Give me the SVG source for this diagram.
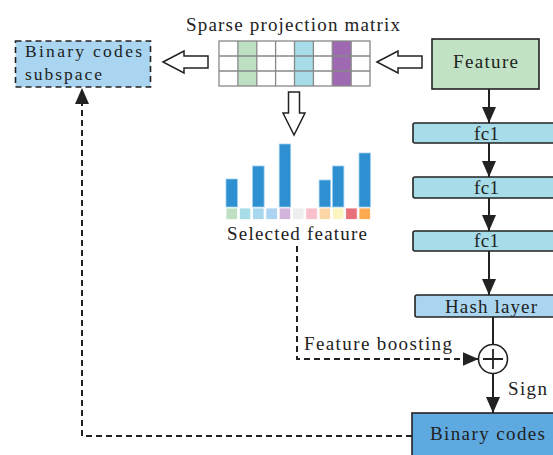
<svg xmlns="http://www.w3.org/2000/svg" width="553" height="455" viewBox="0 0 553 455">
<defs>
<style>
text{font-family:"Liberation Serif","Times New Roman",serif;fill:#222;font-size:19px}
.box{stroke:#222;stroke-width:1.6}
.line{stroke:#222;stroke-width:2;fill:none}
.dash{stroke:#222;stroke-width:2;fill:none;stroke-dasharray:6 4}
.hollow{fill:#fff;stroke:#222;stroke-width:1.5;stroke-linejoin:miter}
.grid{fill:none;stroke:#888;stroke-width:1.3}
.bar{fill:#2e8fd1;stroke:#9fd0f0;stroke-width:0.8}
.sq{stroke:#fff;stroke-width:0.8}
</style>
<marker id="ah" viewBox="0 0 16 14" refX="16" refY="7" markerWidth="16" markerHeight="14" markerUnits="userSpaceOnUse" orient="auto">
<path d="M0,0 L16,7 L0,14 Z" fill="#222"/>
</marker>
</defs>

<g id="subspace">
<rect x="15.5" y="41" width="135" height="46" fill="#a9d5f0" stroke="#222" stroke-width="1.6" stroke-dasharray="6 4"/>
<text x="25" y="57" textLength="117" lengthAdjust="spacing" style="font-size:17.5px">Binary codes</text>
<text x="25" y="80" textLength="77" lengthAdjust="spacing" style="font-size:17.5px">subspace</text>
</g>

<g id="matrix">
<text x="186" y="31" textLength="214" lengthAdjust="spacing">Sparse projection matrix</text>
<rect x="237.9" y="41" width="18.9" height="45" fill="#bde0c3"/>
<rect x="294.6" y="41" width="18.9" height="45" fill="#a6dde8"/>
<rect x="332.4" y="41" width="18.9" height="45" fill="#9e69b0"/>
<rect class="grid" x="219" y="41" width="151" height="45"/>
<path class="grid" d="M219,56H370M219,71H370M237.9,41V86M256.8,41V86M275.6,41V86M294.5,41V86M313.4,41V86M332.3,41V86M351.1,41V86"/>
</g>

<g id="feature">
<rect class="box" x="432" y="39" width="107" height="50" fill="#c1e2c5"/>
<text x="453" y="68" textLength="65" lengthAdjust="spacing">Feature</text>
</g>

<g id="fc1a">
<rect class="box" x="413" y="123" width="150" height="20" rx="2" fill="#a6dde8"/>
<text x="474" y="140" textLength="25" lengthAdjust="spacing">fc1</text>
</g>
<g id="fc1b">
<rect class="box" x="413" y="177" width="150" height="21" rx="2" fill="#a6dde8"/>
<text x="474" y="194" textLength="25" lengthAdjust="spacing">fc1</text>
</g>
<g id="fc1c">
<rect class="box" x="413" y="231" width="150" height="20" rx="2" fill="#a6dde8"/>
<text x="474" y="247" textLength="25" lengthAdjust="spacing">fc1</text>
</g>
<g id="hash">
<rect class="box" x="415" y="295" width="150" height="22" rx="2" fill="#a9d5ef"/>
<text x="445" y="313" textLength="92" lengthAdjust="spacing">Hash layer</text>
</g>

<g id="plus">
<circle cx="493" cy="359" r="14.5" fill="#fff" stroke="#222" stroke-width="1.6"/>
<path d="M483,359H503M493,349V369" stroke="#222" stroke-width="1.8"/>
</g>

<g id="binary">
<rect class="box" x="412" y="413" width="150" height="50" fill="#5ea9df"/>
<text x="430" y="440" textLength="115" lengthAdjust="spacing">Binary codes</text>
</g>

<g id="selected">
<rect class="sq" x="226" y="208" width="11.5" height="11.5" fill="#bde0c3"/>
<rect class="sq" x="239.3" y="208" width="11.5" height="11.5" fill="#a6dde8"/>
<rect class="sq" x="252.6" y="208" width="11.5" height="11.5" fill="#a8d8ee"/>
<rect class="sq" x="265.9" y="208" width="11.5" height="11.5" fill="#acd4f2"/>
<rect class="sq" x="279.2" y="208" width="11.5" height="11.5" fill="#d3b4dc"/>
<rect class="sq" x="292.5" y="208" width="11.5" height="11.5" fill="#eeeeee"/>
<rect class="sq" x="305.8" y="208" width="11.5" height="11.5" fill="#f8c0cc"/>
<rect class="sq" x="319.1" y="208" width="11.5" height="11.5" fill="#fdd6a6"/>
<rect class="sq" x="332.4" y="208" width="11.5" height="11.5" fill="#fdf5c0"/>
<rect class="sq" x="345.7" y="208" width="11.5" height="11.5" fill="#e8707a"/>
<rect class="sq" x="359" y="208" width="11.5" height="11.5" fill="#fdaa50"/>
<rect class="bar" x="226" y="179" width="11.5" height="28"/>
<rect class="bar" x="252.6" y="166" width="11.5" height="41"/>
<rect class="bar" x="279.2" y="144" width="11.5" height="63"/>
<rect class="bar" x="319.1" y="180" width="11.5" height="27"/>
<rect class="bar" x="332.4" y="166" width="11.5" height="41"/>
<rect class="bar" x="359" y="153" width="11.5" height="54"/>
<text x="227" y="240" textLength="140" lengthAdjust="spacing">Selected feature</text>
</g>

<g id="connectors">
<path class="hollow" d="M163,62 L184,51 L184,56 L208,56 L208,68 L184,68 L184,73 Z"/>
<path class="hollow" d="M377,62 L398,51 L398,56 L422,56 L422,68 L398,68 L398,73 Z"/>
<path class="hollow" d="M294,135 L283,113 L288.5,113 L288.5,92 L299.5,92 L299.5,113 L305,113 Z"/>
<path class="line" d="M489,89V123" marker-end="url(#ah)"/>
<path class="line" d="M489,143V177" marker-end="url(#ah)"/>
<path class="line" d="M489,198V231" marker-end="url(#ah)"/>
<path class="line" d="M489,251V295" marker-end="url(#ah)"/>
<path class="line" d="M493,317V344.5"/>
<path class="line" d="M493,373.5V413" marker-end="url(#ah)"/>
<path class="dash" d="M297,246V359H478.5" marker-end="url(#ah)"/>
<path class="dash" d="M412,436H82V88" marker-end="url(#ah)"/>
<text x="304" y="350" textLength="148" lengthAdjust="spacing">Feature boosting</text>
<text x="508" y="395" textLength="39" lengthAdjust="spacing">Sign</text>
</g>
</svg>
